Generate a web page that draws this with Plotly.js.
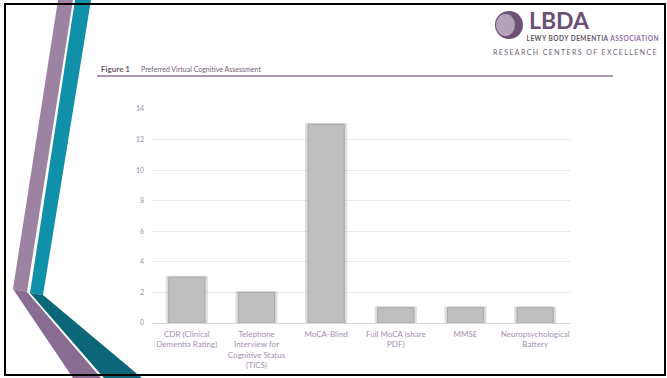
<!DOCTYPE html>
<html>
<head>
<meta charset="utf-8">
<script src="https://cdn.plot.ly/plotly-3.0.1.min.js"></script>
<style>
html,body{margin:0;padding:0;background:#fff;}
#chart{width:667px;height:378px;}
</style>
</head>
<body>
<div id="chart"></div>
<script>
// ---- data ----
const categories = [
  "CDR (Clinical<br>Dementia Rating)",
  "Telephone<br>Interview for<br>Cognitive Status<br>(TICS)",
  "MoCA-Blind",
  "Full MoCA (share<br>PDF)",
  "MMSE",
  "Neuropsychological<br>Battery"
];
const counts = [3, 2, 13, 1, 1, 1];
const yTickValues = [0, 2, 4, 6, 8, 10, 12, 14];
const figureLabel = "Figure 1";
const figureTitle = "Preferred Virtual Cognitive Assessment";

// ---- layout helpers (pixel -> paper) ----
const W = 667, H = 378;
const M = {l: 152, r: 97, t: 109, b: 55};
const PW = W - M.l - M.r, PH = H - M.t - M.b;
const px = x => (x - M.l) / PW;
const py = y => (H - M.b - y) / PH;
const poly = pts => 'M ' + pts.map(p => px(p[0]) + ',' + py(p[1])).join(' L ') + ' Z';

const FONT = 'Lato, "Open Sans", sans-serif';
const tickColor = '#a58fae';

const shapes = [
  // decorative stripes
  {type:'path', xref:'paper', yref:'paper', layer:'below', line:{width:0},
   fillcolor:'#9d83a3', path: poly([[58,0],[73,0],[27,292],[13,289]])},
  {type:'path', xref:'paper', yref:'paper', layer:'below', line:{width:0},
   fillcolor:'#1190a9', path: poly([[75,0],[91,0],[43,295],[30,293]])},
  {type:'path', xref:'paper', yref:'paper', layer:'below', line:{width:0},
   fillcolor:'#8a6b92', path: poly([[13,289],[27,292],[101,378],[73,378]])},
  {type:'path', xref:'paper', yref:'paper', layer:'below', line:{width:0},
   fillcolor:'#0b6677', path: poly([[30,293],[43,295],[142,378],[104,378]])},
  // title underline
  {type:'line', xref:'paper', yref:'paper', layer:'above',
   x0: px(97), x1: px(613), y0: py(76), y1: py(76), line:{color:'#8e7795', width:1.5}},
  // logo circles
  {type:'circle', xref:'paper', yref:'paper', layer:'above', line:{width:0},
   fillcolor:'#6d5177', x0: px(495), x1: px(523), y0: py(11), y1: py(39)},
  {type:'circle', xref:'paper', yref:'paper', layer:'above', line:{width:0},
   fillcolor:'#b3a2bb', x0: px(496), x1: px(515), y0: py(14), y1: py(36)},
  // slide frame
  {type:'rect', xref:'paper', yref:'paper', layer:'above',
   x0: px(5), x1: px(665), y0: py(4), y1: py(375), line:{color:'#000', width:2}}
];

const annotations = [
  {xref:'paper', yref:'paper', x: px(99), y: py(69), xanchor:'left', yanchor:'middle', showarrow:false,
   text: '<b>' + figureLabel + '</b>', font:{family:FONT, size:8, color:'#6b5a70'}},
  {xref:'paper', yref:'paper', x: px(139), y: py(69), xanchor:'left', yanchor:'middle', showarrow:false,
   text: figureTitle, font:{family:FONT, size:7, color:'#6f6174'}},
  {xref:'paper', yref:'paper', x: px(527), y: py(20), xanchor:'left', yanchor:'middle', showarrow:false,
   text: '<b>LBDA</b>', font:{family:FONT, size:23, color:'#6c4f76'}},
  {xref:'paper', yref:'paper', x: px(593), y: py(38.5), xanchor:'center', yanchor:'middle', showarrow:false,
   text: '<b>LEWY BODY DEMENTIA <span style="color:#8c6aa0">ASSOCIATION</span></b>', font:{family:FONT, size:6.5, color:'#5f5563'}},
  {xref:'paper', yref:'paper', x: px(575.5), y: py(51.5), xanchor:'center', yanchor:'middle', showarrow:false,
   text: 'RESEARCH CENTERS OF EXCELLENCE', font:{family:FONT, size:7, color:'#6e6272'}}
];

const traces = [
  {type:'bar', x: categories, y: counts, width: 0.56, hoverinfo:'skip', showlegend:false,
   marker:{color:'rgba(0,0,0,0)', line:{color:'rgba(160,160,160,0.35)', width:3}}},
  {type:'bar', x: categories, y: counts, width: 0.52, showlegend:false,
   marker:{color:'#bfbfbf', line:{color:'#a6a6a6', width:1}}}
];

const layout = {
  width: W, height: H,
  margin: M,
  paper_bgcolor:'#fff', plot_bgcolor:'#fff',
  barmode:'overlay',
  font:{family:FONT},
  showlegend:false,
  xaxis:{type:'category', showgrid:false, zeroline:false, showline:false, ticks:'',
         tickfont:{family:FONT, size:8, color:tickColor}, ticklabelstandoff: 5, fixedrange:true},
  yaxis:{range:[0,14], tickvals: yTickValues, showgrid:true, gridcolor:'#ece5ee', gridwidth:1,
         zeroline:true, zerolinecolor:'#ddd3e0', zerolinewidth:1, showline:false, ticks:'',
         tickfont:{family:FONT, size:7, color:tickColor}, ticklabelstandoff: 7, fixedrange:true},
  shapes: shapes,
  annotations: annotations
};

Plotly.newPlot('chart', traces, layout, {displayModeBar:false, staticPlot:true}).then(gd => {
  // letter-spacing for the logo texts
  gd.querySelectorAll('.annotation-text').forEach(t => {
    const s = t.textContent;
    if (s === 'RESEARCH CENTERS OF EXCELLENCE') t.setAttribute('letter-spacing', '1.4px');
    if (s.indexOf('LEWY BODY') === 0) t.setAttribute('letter-spacing', '0.5px');
  });
});
</script>
</body>
</html>
